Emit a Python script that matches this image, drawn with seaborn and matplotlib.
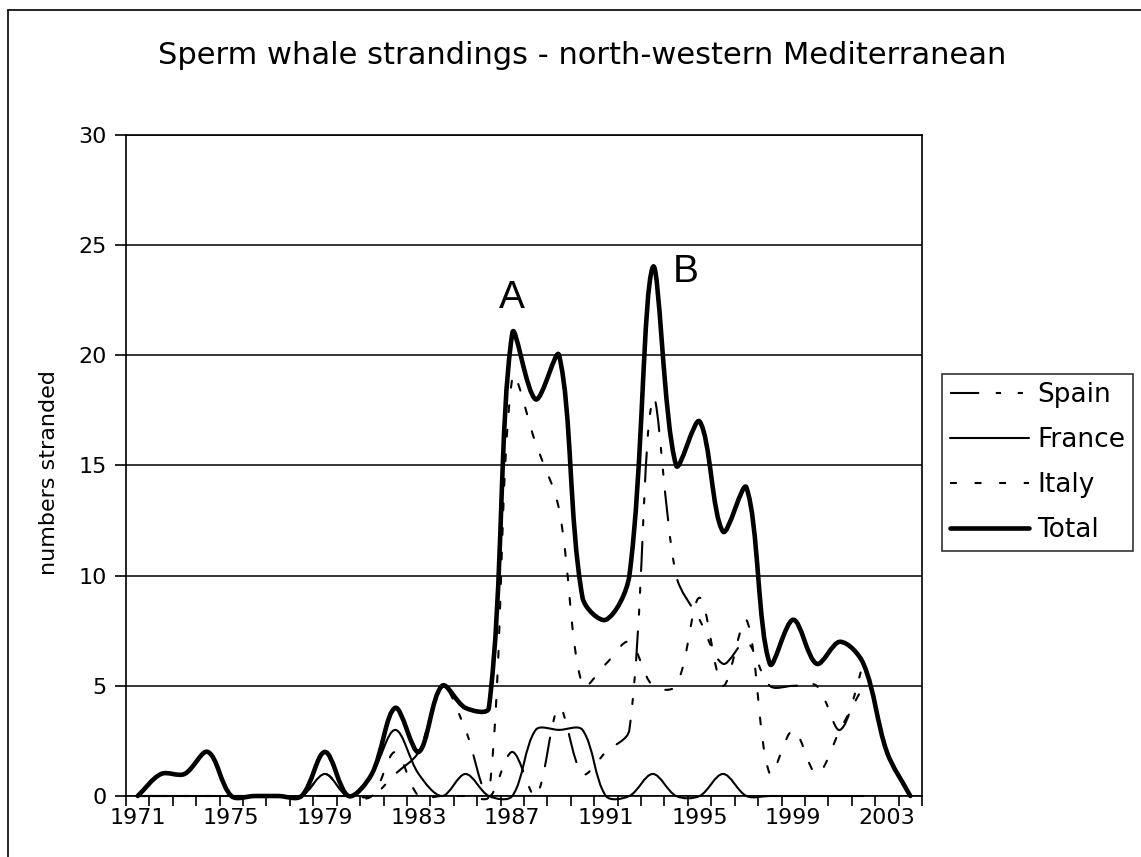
import numpy as np
import matplotlib
matplotlib.use('Agg')
import matplotlib.pyplot as plt
import seaborn as sns
from matplotlib.path import Path
from matplotlib.patches import PathPatch
from matplotlib.lines import Line2D

sns.set_style('white')
plt.rcParams['font.family'] = ['DejaVu Sans']
plt.rcParams['text.color'] = 'black'
plt.rcParams['axes.labelcolor'] = 'black'
plt.rcParams['xtick.color'] = 'black'
plt.rcParams['ytick.color'] = 'black'

# data (1971-2004)
years = list(range(1971, 2005))
nan = np.nan
spain = [0, 0, 0, 0, 0, 0, 0, 0, 0, 0,
         0, 1, 2, 5, 3, 0, 2, 0, 4, 1, 2, 3, 18, 10, 8, 6, 7, 5, 5, 5, 3, 6, nan, nan]
france = [0, 0, 0, 0, 0, 0, 0, 0, 1, 0,
          1, 3, 1, 0, 1, 0, 0, 3, 3, 3, 0, 0, 1, 0, 0, 1, 0, 0, 0, 0, 0, 0, nan, nan]
italy = [0, 1, 1, 2, 0, 0, 0, 0, 1, 0,
         0, 2, 0, 0, 0, 0, 19, 16, 13, 5, 6, 7, 5, 5, 9, 5, 8, 1, 3, 1, 3, 5, nan, nan]
total = [0, 1, 1, 2, 0, 0, 0, 0, 2, 0,
         1, 4, 2, 5, 4, 4, 21, 18, 20, 9, 8, 10, 24, 15, 17, 12, 14, 6, 8, 6, 7, 6, 2, 0]
tick_years = list(range(1971, 2004, 4))

# pixel size of one year / one stranding, used to weight the smoothing
PX_X, PX_Y = 23.4, 22.03


def smooth_path(xs, ys):
    # Excel style smoothed line: bezier segments, tangents weighted by chord length
    pts = np.array([(x, y) for x, y in zip(xs, ys) if not np.isnan(y)], dtype=float)
    n = len(pts)

    def dist(a, b):
        return np.hypot((a[0] - b[0]) * PX_X, (a[1] - b[1]) * PX_Y)

    verts = [pts[0]]
    codes = [Path.MOVETO]
    for i in range(n - 1):
        p0 = pts[max(i - 1, 0)]
        p1 = pts[i]
        p2 = pts[i + 1]
        p3 = pts[min(i + 2, n - 1)]
        d01, d12, d23 = dist(p0, p1), dist(p1, p2), dist(p2, p3)
        c1 = p1 + (p2 - p0) * d12 / (d01 + d12) / 3
        c2 = p2 - (p3 - p1) * d12 / (d12 + d23) / 3
        verts += [c1, c2, p2]
        codes += [Path.CURVE4] * 3
    return Path(verts, codes)


styles = {
    'Spain': dict(lw=1.5, ls=(0, (14, 8, 2.5, 8, 2.5, 8))),
    'France': dict(lw=1.5, ls='-'),
    'Italy': dict(lw=1.5, ls=(0, (3.3, 8.5))),
    'Total': dict(lw=3.3, ls='-'),
}
series = {'Spain': spain, 'France': france, 'Italy': italy, 'Total': total}

fig = plt.figure(figsize=(11.41, 8.57), dpi=100)
ax = fig.add_axes([126 / 1141, 1 - 796 / 857, 796 / 1141, 661 / 857])

ax.set_xlim(1970.5, 2004.5)
ax.set_ylim(0, 30)
ax.yaxis.grid(True, color='black', lw=1.1)
ax.set_axisbelow(True)

for name, vals in series.items():
    st = styles[name]
    ax.add_patch(PathPatch(smooth_path(years, vals), fill=False, edgecolor='black',
                           lw=st['lw'], linestyle=st['ls'], capstyle='round',
                           joinstyle='round', clip_on=False))

ax.set_yticks(range(0, 31, 5))
ax.tick_params(axis='y', direction='out', length=8, width=1.2, labelsize=16, pad=6, left=True)
ax.set_xticks(tick_years)
ax.set_xticklabels([str(y) for y in tick_years])
ax.set_xticks(np.arange(1970.5, 2005, 1), minor=True)
ax.tick_params(axis='x', which='major', length=0, labelsize=16, pad=9)
ax.tick_params(axis='x', which='minor', direction='out', length=7, width=1.2, bottom=True)
for sp in ax.spines.values():
    sp.set_color('black')
    sp.set_linewidth(1.2)

ax.set_ylabel('numbers stranded', fontsize=16)
ax.yaxis.set_label_coords(-0.084, 0.49)

ax.text(1987, 22.6, 'A', fontsize=28, family='Liberation Sans', ha='center', va='center')
ax.text(1994.4, 23.8, 'B', fontsize=28, family='Liberation Sans', ha='center', va='center')

fig.text(582 / 1141, 1 - 55 / 857, 'Sperm whale strandings - north-western Mediterranean',
         fontsize=22, ha='center', va='center')

handles = [Line2D([], [], color='black', lw=styles[k]['lw'], ls=styles[k]['ls'])
           for k in series]
leg = fig.legend(handles, list(series.keys()), loc='upper left',
                 bbox_to_anchor=(942 / 1141, 1 - 374 / 857), fontsize=19,
                 frameon=True, fancybox=False, edgecolor='black', handlelength=3.0,
                 handletextpad=0.3, labelspacing=0.72, borderpad=0.3, borderaxespad=0)
leg.get_frame().set_linewidth(1.2)

# outer chart border
fig.add_artist(Line2D([8 / 1141, 8 / 1141], [0, 1 - 10 / 857], color='black', lw=1.2,
                      transform=fig.transFigure))
fig.add_artist(Line2D([8 / 1141, 1], [1 - 10 / 857, 1 - 10 / 857], color='black', lw=1.2,
                      transform=fig.transFigure))

fig.savefig('out.png', dpi=100)
